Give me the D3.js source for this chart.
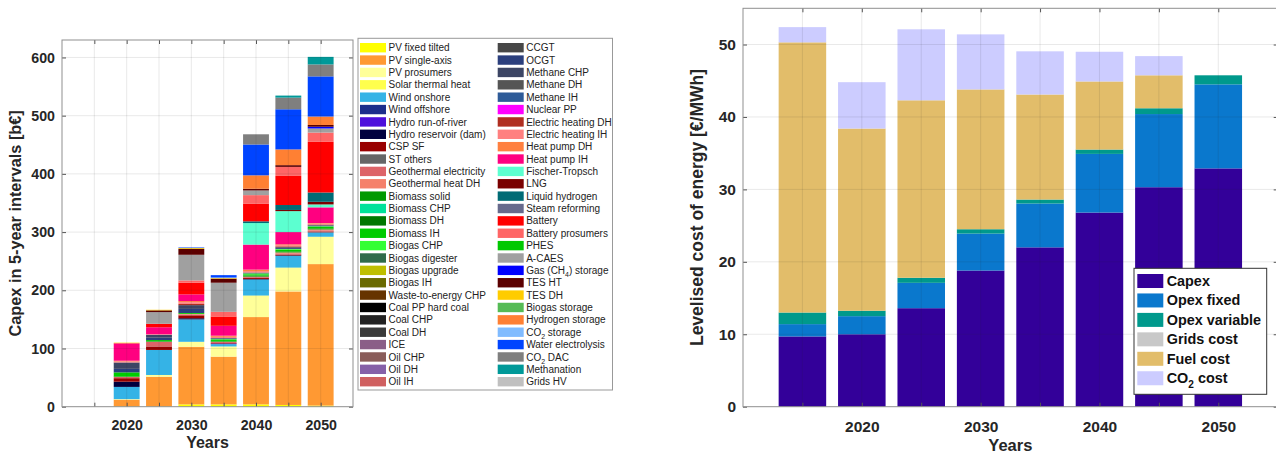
<!DOCTYPE html>
<html><head><meta charset="utf-8">
<script src="https://cdn.jsdelivr.net/npm/d3@7"></script>
<style>
body{margin:0;background:#fff}
svg{display:block}
text{font-family:"Liberation Sans",Arial,Helvetica,sans-serif}
</style>
</head><body>
<svg id="c" width="1276" height="455"></svg>
<script>
// ---------------- LEFT CHART DATA ----------------
const capexYears = [2020, 2025, 2030, 2035, 2040, 2045, 2050];
const capexTicks = [0, 100, 200, 300, 400, 500, 600];
const yearTicks = [2020, 2030, 2040, 2050];
const techNames = [
  "PV fixed tilted","PV single-axis","PV prosumers","Solar thermal heat","Wind onshore","Wind offshore",
  "Hydro run-of-river","Hydro reservoir (dam)","CSP SF","ST others","Geothermal electricity","Geothermal heat DH",
  "Biomass solid","Biomass CHP","Biomass DH","Biomass IH","Biogas CHP","Biogas digester","Biogas upgrade",
  "Biogas IH","Waste-to-energy CHP","Coal PP hard coal","Coal CHP","Coal DH","ICE","Oil CHP","Oil DH","Oil IH",
  "CCGT","OCGT","Methane CHP","Methane DH","Methane IH","Nuclear PP","Electric heating DH","Electric heating IH",
  "Heat pump DH","Heat pump IH","Fischer-Tropsch","LNG","Liquid hydrogen","Steam reforming","Battery",
  "Battery prosumers","PHES","A-CAES","Gas (CH_4) storage","TES HT","TES DH","Biogas storage","Hydrogen storage",
  "CO_2 storage","Water electrolysis","CO_2 DAC","Methanation","Grids HV"
];
const techColors = [
  "#ffff00","#ff9933","#ffff99","#ffff4d","#35b3e6","#1c2e8c",
  "#4d10dc","#00003f","#990000","#666666","#dd6468","#f5806a",
  "#009900","#00e29a","#007700","#00cc00","#33ff33","#2f6b4a","#bfbf00",
  "#6b6b00","#663300","#000000","#222222","#3a3a3a","#8a5e87","#8a5d5a","#8660a8","#d06060",
  "#474747","#2b3f7d","#3c4564","#555555","#2e5b98","#ff00ff","#b02e20","#ff8080",
  "#ff8040","#ff0080","#5cffd0","#7a0000","#006b75","#676a8c","#ff0000",
  "#ff6666","#00c800","#a0a0a0","#0000ff","#5c0000","#ffcc00","#55bb55","#ff8033",
  "#80bbff","#0044ff","#7f7f7f","#009999","#c0c0c0"
];
// b€ per technology (rows, same order as techNames) for each of capexYears (columns)
const capexValues = [
  [0.5,0.5,4,4,4,3,2],[11.5,51,99,82,150,195,243],[1,3,8.5,17.5,35.5,40,46],[0,0,0,0,1.5,1,1],
  [21,43,38.5,4,27.5,20,7.5],[0,0,0,0,0,0,0],[0,0,0,1,0,0,0],[9,0,2,0,1,1,0],[6,6,5,1,2,1.5,1.5],
  [0,0,0,0,0,0,0],[2,8,1.5,2,2,2,2],[0,0,1,0,0,1.5,1.5],[1,1,0,1,2,2,2],[0,0,0,0,0,0,0],[0,0,0,0,0,0,0],
  [7,2,1.5,2,2,3,2.5],[0,0,0,1.5,1.5,1,1],[0,0,0,0,0,0,0],[0,0,0,0,0,0,0],[0,0,0,0,0,0,0],[0,0,0,0,0,0,0],
  [0,0,0,0,0,0,0],[0,0,0,0,0,0,0],[0,0,0,0,0,0,0],[0,0,0,0,0,0,0],[0,0,0,0,0,0,0],[0,0,0,0,0,0,0],[0,0,0,0,0,0,0],
  [0,0,0,0,0,0,0],[6,4,7,1,0,1.5,1],[11,5,6.5,1,1.5,1.5,1],[0,0,0,0,0,0,0],[0,0,0,0,0,0,0],[0,0,0,0,0,0,0],
  [0,0,2,0,0,1.5,1],[2,1,3,2,2.5,2,1.5],[1,0,2,2,2.5,1.5,1],[30,12,11.5,17,43,21,27],[0,0,0,0,37,36,5],
  [0,0,0,0,0,2,4.5],[0,0,0,0,3,8.5,16],[0,0,0,0,0,0,0],[0,6,20,16,30,50,87],[0,0,4,8,15,15.5,16],
  [0,0,0,0,0,0,0],[0,20,44,50,8,0,7],[0,0,0,0,0,0,3],[0,3,10,7,3,3,3],[1,1,1.5,1,0,0,0],[0,0,0,0,0,0,0],
  [0,0,0,0,23,27,14.5],[0,0,0,1,0,0,0],[0,0,1,4,53,69,69],[0,0,0,0,17.5,20,20.5],[0,0,0,0,0,3.5,13],[0,0,0,0,0,0,0]
];

// ---------------- RIGHT CHART DATA ----------------
const lcoeYears = [2015, 2020, 2025, 2030, 2035, 2040, 2045, 2050];
const lcoeTicks = [0, 10, 20, 30, 40, 50];
const lcoeSeries = ["Capex","Opex fixed","Opex variable","Grids cost","Fuel cost","CO_2 cost"];
const lcoeColors = ["#330099","#0a78cd","#00998c","#c8c8c8","#e2bd6a","#ccccff"];
const capexL    = [9.7, 10.0, 13.6, 18.8, 22.0, 26.8, 30.3, 32.9];
const opexFixed = [1.7, 2.5, 3.5, 5.1, 6.05, 8.1, 10.1, 11.6];
const opexVar   = [1.6, 0.75, 0.7, 0.6, 0.55, 0.6, 0.8, 1.25];
const gridsCost = [0, 0, 0, 0, 0, 0, 0, 0];
const fuelCost  = [37.3, 25.15, 24.5, 19.3, 14.5, 9.4, 4.55, 0];
const co2Cost   = [2.1, 6.4, 9.8, 7.6, 5.96, 4.1, 2.65, 0];

const svg = d3.select("#c");
const FONT = '"Liberation Sans",Arial,Helvetica,sans-serif';

function subText(sel, str, size) {
  // render "_x" as subscript
  const parts = str.split(/_(\w)/);
  let shift = 0;
  parts.forEach((p, i) => {
    if (!p) return;
    if (i % 2 === 1) {
      sel.append("tspan").attr("dy", size * 0.3).attr("font-size", size * 0.7).text(p);
      shift = -size * 0.3;
    } else {
      sel.append("tspan").attr("dy", shift).text(p);
      shift = 0;
    }
  });
}

function drawFrame(g, x0, x1, y0, y1, xs, ys, yTickVals, xGrid, tickFs) {
  const ax = g.append("g").attr("transform", `translate(0,${y0})`)
    .call(d3.axisBottom(xs).tickValues(xGrid).tickSize(-4).tickPadding(tickFs - 1)
      .tickFormat(d => yearTicks.includes(d) ? d : ""));
  const ay = g.append("g").attr("transform", `translate(${x0},0)`)
    .call(d3.axisLeft(ys).tickValues(yTickVals).tickSize(-4).tickPadding(7));
  const at = g.append("g").attr("transform", `translate(0,${y1})`)
    .call(d3.axisTop(xs).tickValues(xGrid).tickSize(-4).tickFormat(""));
  const ar = g.append("g").attr("transform", `translate(${x1},0)`)
    .call(d3.axisRight(ys).tickValues(yTickVals).tickSize(-4).tickFormat(""));
  [ax, ay, at, ar].forEach(a => {
    a.select(".domain").remove();
    a.selectAll("line").attr("stroke", "#555");
    a.selectAll("text").attr("font-family", FONT).attr("font-size", tickFs)
      .attr("font-weight", "bold").attr("fill", "#262626");
  });
  g.append("rect").attr("x", x0).attr("y", y1).attr("width", x1 - x0).attr("height", y0 - y1)
    .attr("fill", "none").attr("stroke", "#8f8f8f").attr("stroke-width", 1);
}

function drawGrid(g, x0, x1, y0, y1, xs, ys, xVals, yVals) {
  const gg = g.append("g").attr("stroke", "#262626").attr("stroke-opacity", 0.13).attr("stroke-width", 0.8);
  gg.selectAll(".gx").data(xVals).join("line").attr("x1", d => xs(d)).attr("x2", d => xs(d))
    .attr("y1", y0).attr("y2", y1);
  gg.selectAll(".gy").data(yVals).join("line").attr("y1", d => ys(d)).attr("y2", d => ys(d))
    .attr("x1", x0).attr("x2", x1);
}

// ================= LEFT CHART =================
{
  const x0 = 62, x1 = 353, yb = 406.7, yt = 40;
  const xs = d3.scaleLinear().domain([2010, 2055]).range([x0, x1]);
  const ys = d3.scaleLinear().domain([0, 630]).range([yb, yt]);
  const keys = techNames.map((_, i) => i);
  const rows = capexYears.map((yr, j) => {
    const r = { year: yr };
    keys.forEach(k => r[k] = capexValues[k][j]);
    return r;
  });
  const stacked = d3.stack().keys(keys)(rows);
  const bw = xs(2014) - xs(2010);
  const g = svg.append("g");
  g.append("g").selectAll("g").data(stacked).join("g").attr("fill", d => techColors[d.key])
    .selectAll("rect").data(d => d.filter(p => p[1] - p[0] > 0)).join("rect")
    .attr("x", d => xs(d.data.year) - bw / 2).attr("width", bw)
    .attr("y", d => ys(d[1])).attr("height", d => ys(d[0]) - ys(d[1]));
  const xGrid = d3.range(2015, 2055, 5);
  drawGrid(g, x0, x1, yb, yt, xs, ys, xGrid, capexTicks.slice(1));
  drawFrame(g, x0, x1, yb, yt, xs, ys, capexTicks, xGrid, 14.2);
  g.append("text").attr("x", (x0 + x1) / 2).attr("y", 448).attr("text-anchor", "middle")
    .attr("font-size", 16).attr("font-weight", "bold").attr("fill", "#262626").text("Years");
  g.append("text").attr("transform", `translate(21,${(yt + yb) / 2}) rotate(-90)`)
    .attr("text-anchor", "middle").attr("font-size", 16.3).attr("font-weight", "bold")
    .attr("fill", "#262626").text("Capex in 5-year intervals [b€]");

  // legend
  const lg = svg.append("g");
  lg.append("rect").attr("x", 358).attr("y", 38.3).attr("width", 254.5).attr("height", 351.7)
    .attr("fill", "#fff").attr("stroke", "#999").attr("stroke-width", 1);
  const rowH = 12.37;
  techNames.forEach((name, i) => {
    const col = Math.floor(i / 28), r = i % 28;
    const cy = 47.7 + r * rowH;
    const sx = col === 0 ? 360 : 497.7;
    lg.append("rect").attr("x", sx).attr("y", cy - 4.7).attr("width", 26).attr("height", 9.4)
      .attr("fill", techColors[i]);
    const t = lg.append("text").attr("x", sx + 28.5).attr("y", cy + 3.6).attr("font-size", 10)
      .attr("fill", "#222");
    subText(t, name, 10);
  });
}

// ================= RIGHT CHART =================
{
  const x0 = 743, x1 = 1277.7, yb = 406.7, yt = 8.3;
  const xs = d3.scaleLinear().domain([2010, 2055]).range([x0, x1]);
  const ys = d3.scaleLinear().domain([0, 55]).range([yb, yt]);
  const seriesVals = [capexL, opexFixed, opexVar, gridsCost, fuelCost, co2Cost];
  const keys = lcoeSeries.map((_, i) => i);
  const rows = lcoeYears.map((yr, j) => {
    const r = { year: yr };
    keys.forEach(k => r[k] = seriesVals[k][j]);
    return r;
  });
  const stacked = d3.stack().keys(keys)(rows);
  const bw = xs(2014) - xs(2010);
  const g = svg.append("g");
  g.append("g").selectAll("g").data(stacked).join("g").attr("fill", d => lcoeColors[d.key])
    .selectAll("rect").data(d => d.filter(p => p[1] - p[0] > 0)).join("rect")
    .attr("x", d => xs(d.data.year) - bw / 2).attr("width", bw)
    .attr("y", d => ys(d[1])).attr("height", d => ys(d[0]) - ys(d[1]));
  const xGrid = d3.range(2015, 2055, 5);
  drawGrid(g, x0, x1, yb, yt, xs, ys, xGrid, lcoeTicks.slice(1));
  drawFrame(g, x0, x1, yb, yt, xs, ys, lcoeTicks, xGrid, 15.5);
  g.append("text").attr("x", (x0 + x1) / 2).attr("y", 451).attr("text-anchor", "middle")
    .attr("font-size", 16.5).attr("font-weight", "bold").attr("fill", "#262626").text("Years");
  g.append("text").attr("transform", `translate(703,${(yt + yb) / 2}) rotate(-90)`)
    .attr("text-anchor", "middle").attr("font-size", 17.5).attr("font-weight", "bold")
    .attr("fill", "#262626").text("Levelised cost of energy [€/MWh]");

  const lg = svg.append("g");
  lg.append("rect").attr("x", 1134).attr("y", 268.3).attr("width", 132.7).attr("height", 126)
    .attr("fill", "#fff").attr("stroke", "#333").attr("stroke-width", 1);
  lcoeSeries.forEach((name, i) => {
    const cy = 281 + i * 19.45;
    lg.append("rect").attr("x", 1137.3).attr("y", cy - 7).attr("width", 26).attr("height", 14)
      .attr("fill", lcoeColors[i]);
    const t = lg.append("text").attr("x", 1166.7).attr("y", cy + 5).attr("font-size", 14.4)
      .attr("font-weight", "bold").attr("fill", "#111");
    subText(t, name, 14.4);
  });
}
</script>
</body></html>
